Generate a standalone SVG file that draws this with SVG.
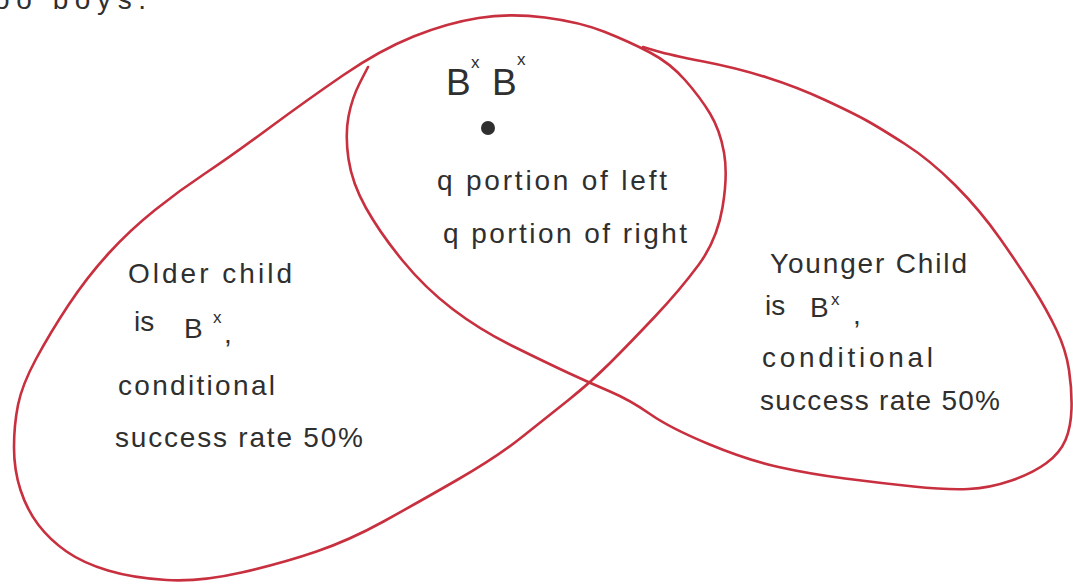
<svg xmlns="http://www.w3.org/2000/svg" width="1073" height="585" viewBox="0 0 1073 585">
  <style>
    .set { fill: none; stroke: #c8303f; stroke-width: 2.6; stroke-linecap: round; stroke-linejoin: round; }
    .hw { font-family: "Liberation Sans", "DejaVu Sans", sans-serif; fill: #2f2f2f; font-size: 28px; }
    .big { font-size: 37px; }
    .sup { font-size: 17px; }
  </style>
  <rect x="0" y="0" width="1073" height="585" fill="#ffffff"/>

  <g id="header">
    <text class="hw" x="-6" y="9" font-size="36" textLength="152" lengthAdjust="spacing">oo boys.</text>
  </g>

  <g id="older-child-set">
    <path class="set" d="M 568.5,400 Q 547,417 522,437 Q 497,457 457,480 Q 417,503 383.5,521.5 Q 350,540 316.5,551.5 Q 283,563 241.5,572.5 Q 200,582 166.5,580 Q 133,578 108,570.5 Q 83,563 66.5,551.5 Q 50,540 38.5,525 Q 27,510 20.5,490 Q 14,470 14,447.5 Q 14,425 18,405 Q 22,385 36,359 Q 50,333 68.5,305 Q 87,277 108.5,253.5 Q 130,230 155,210 Q 180,190 205,173.5 Q 230,157 268.5,128.5 Q 307,100 343.5,75 Q 380,50 413.5,36.5 Q 447,23 478.5,18 Q 510,13 545,17.5 Q 580,22 605,32 Q 630,42 650,52.5 Q 670,63 685,80 Q 700,97 710,113.5 Q 720,130 724,152.5 Q 728,175 722.5,207.5 Q 717,240 698.5,265 Q 680,290 655,316.5 Q 630,343 610,363 Q 590,383 568.5,400 Z"/>
    <text class="hw" x="128" y="283" font-size="27" textLength="164" lengthAdjust="spacing">Older child</text>
    <text class="hw" x="134" y="331" font-size="25">is</text>
    <text class="hw" x="184" y="338" font-size="27">B</text>
    <text class="hw sup" x="213" y="323">x</text>
    <text class="hw" x="224" y="343" font-size="18">,</text>
    <text class="hw" x="118" y="395" textLength="157" lengthAdjust="spacing">conditional</text>
    <text class="hw" x="115" y="447" textLength="248" lengthAdjust="spacing">success rate 50%</text>
  </g>

  <g id="younger-child-set">
    <path class="set" d="M 368,67 L 360,82.5 Q 352,98 348.5,116.5 Q 345,135 348.5,159 Q 352,183 366,208 Q 380,233 402.5,260.5 Q 425,288 452.5,309 Q 480,330 513.5,346.5 Q 547,363 568.5,373 Q 590,383 610,391.5 Q 630,400 650,414 Q 670,428 708.5,444 Q 747,460 778.5,467 Q 810,474 845,478.5 Q 880,483 913.5,486.5 Q 947,490 968.5,489 Q 990,488 1011.5,480.5 Q 1033,473 1046.5,463 Q 1060,453 1065.5,440 Q 1071,427 1071.5,408.5 Q 1072,390 1069,370 Q 1066,350 1056.5,330 Q 1047,310 1033.5,288.5 Q 1020,267 1000,238.5 Q 980,210 955,185 Q 930,160 905,144 Q 880,128 866.5,120.5 Q 853,113 825,100 Q 797,87 767,77.5 Q 737,68 703.5,61.5 Q 670,55 656.5,51 L 643,47"/>
    <text class="hw" x="770" y="273" font-size="29" textLength="197" lengthAdjust="spacing">Younger Child</text>
    <text class="hw" x="765" y="315" font-size="25">is</text>
    <text class="hw" x="810" y="317" font-size="23">B</text>
    <text class="hw sup" x="831" y="305" font-size="15">x</text>
    <text class="hw" x="853" y="324" font-size="18">,</text>
    <text class="hw" x="762" y="367" font-size="29" textLength="171" lengthAdjust="spacing">conditional</text>
    <text class="hw" x="760" y="410" textLength="240" lengthAdjust="spacing">success rate 50%</text>
  </g>

  <g id="intersection">
    <text class="hw big" x="446" y="95">B</text>
    <text class="hw sup" x="471" y="68">x</text>
    <text class="hw big" x="492" y="95">B</text>
    <text class="hw sup" x="517" y="65">x</text>
    <circle cx="488" cy="128" r="7" fill="#2f2f2f"/>
    <text class="hw" x="437" y="190" textLength="230" lengthAdjust="spacing">q portion of left</text>
    <text class="hw" x="443" y="243" textLength="244" lengthAdjust="spacing">q portion of right</text>
  </g>
</svg>
